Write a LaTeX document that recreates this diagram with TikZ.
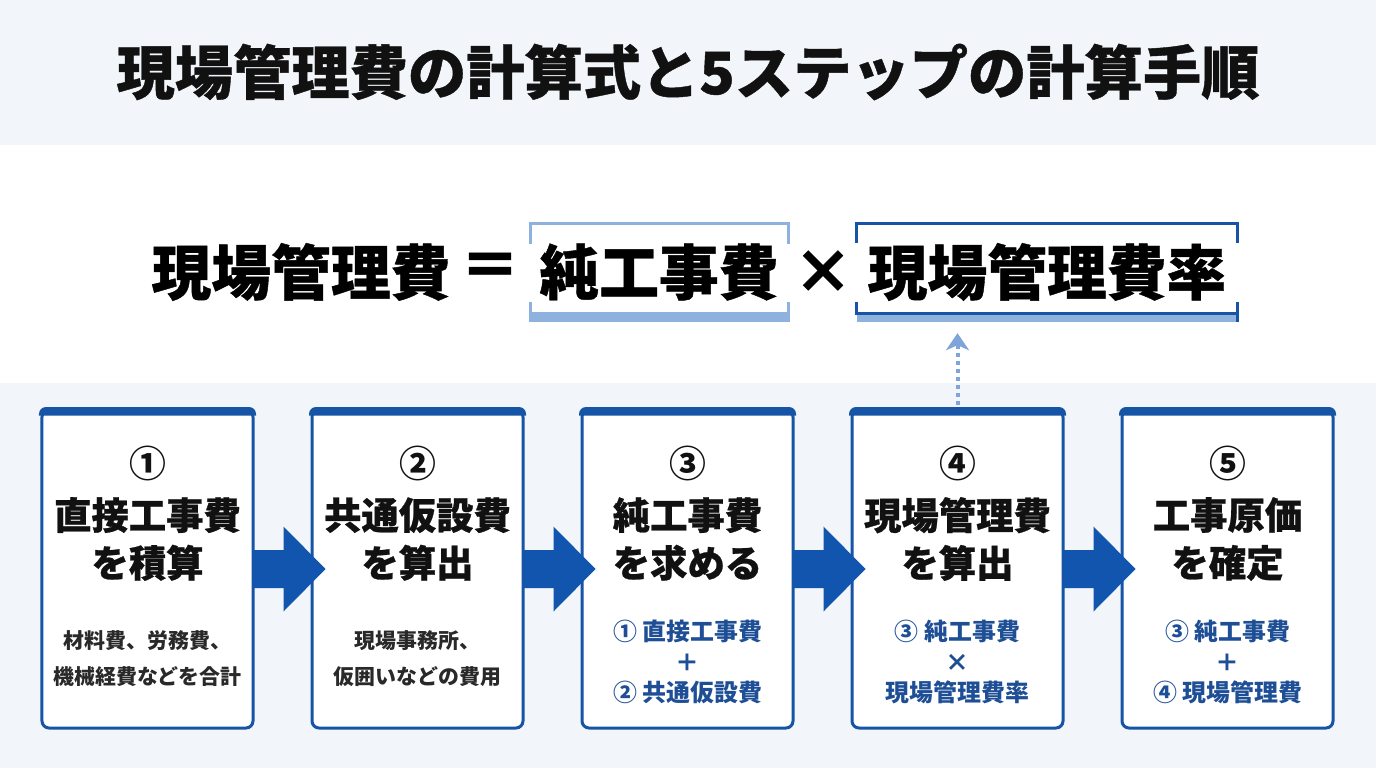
\documentclass[tikz,border=0pt]{standalone}
\usepackage{fontspec}
\setmainfont{Noto Sans CJK JP}
\newfontfamily\heavyjp{Noto Sans CJK JP}[BoldFeatures={FakeBold=0.7}]
\usetikzlibrary{calc,arrows.meta}
\definecolor{bggray}{HTML}{F2F5F9}
\definecolor{boxblue}{HTML}{1654A6}
\definecolor{arrblue}{HTML}{1155AE}
\definecolor{txtblue}{HTML}{1E4F96}
\definecolor{lightblue}{HTML}{8FB1DE}
\definecolor{dotblue}{HTML}{7FA4D9}
\definecolor{ink}{HTML}{111111}
\tikzset{
  stepbox/.style={draw=boxblue, line width=3bp, fill=white, rounded corners=7bp,
    minimum width=211bp, minimum height=318bp, inner sep=0pt},
  numtxt/.style={font=\fontsize{37}{40}\selectfont\bfseries, text=ink, inner sep=0pt},
  ttltxt/.style={font=\heavyjp\fontsize{37.5}{48}\selectfont\bfseries, text=ink, inner sep=0pt, align=center},
  subtxt/.style={font=\fontsize{21}{36}\selectfont\bfseries, text=ink!90, inner sep=0pt, align=center},
  bluetxt/.style={font=\fontsize{24}{30.5}\selectfont\bfseries, text=txtblue, inner sep=0pt, align=center},
  bigtxt/.style={font=\heavyjp\fontsize{60}{60}\selectfont\bfseries, text=black, inner sep=0pt},
  flowarrow/.style={fill=arrblue},
}
\begin{document}
\begin{tikzpicture}[x=1bp,y=-1bp]
\useasboundingbox (0,0) rectangle (1376,768);
\fill[bggray] (0,0) rectangle (1376,768);
\fill[white] (0,145) rectangle (1376,383);

% title
\node[font=\heavyjp\fontsize{58.5}{58}\selectfont\bfseries, text=ink, inner sep=0pt] (title) at (688,72) {現場管理費の計算式と5ステップの計算手順};

% formula
\node[bigtxt] (f1) at (301,272) {現場管理費};
\node[bigtxt] (feq) at (490,270) {＝};
\node[bigtxt] (f2) at (659,272) {純工事費};
\node[bigtxt] (fx) at (823,272) {×};
\node[bigtxt] (f3) at (1047,272) {現場管理費率};

% brackets (north = top edge, south = bottom edge)
\node[minimum width=257bp, minimum height=98bp, inner sep=0pt] (b1) at (659.5,273) {};
\node[minimum width=380bp, minimum height=98bp, inner sep=0pt] (b2) at (1047,273) {};
\draw[lightblue, line width=3bp] ($(b1.north west)+(0,20)$) -- (b1.north west) -- (b1.north east) -- ($(b1.north east)+(0,20)$);
\draw[lightblue, line width=3bp] ($(b1.south west)+(0,-20)$) -- ($(b1.south west)+(0,-6)$);
\draw[lightblue, line width=3bp] ($(b1.south east)+(0,-20)$) -- ($(b1.south east)+(0,-6)$);
\fill[lightblue] ($(b1.south west)+(-1.5,0)$) rectangle ($(b1.south east)+(1.5,-10)$);
\draw[boxblue, line width=3bp] ($(b2.north west)+(0,19)$) -- (b2.north west) -- (b2.north east) -- ($(b2.north east)+(0,19)$);
\fill[lightblue] ($(b2.south west)+(0,0)$) rectangle ($(b2.south east)+(0,-8)$);
\draw[boxblue, line width=3bp] ($(b2.south west)+(0,-20)$) -- ($(b2.south west)+(0,-9)$) -- ($(b2.south east)+(0,-9)$) -- ($(b2.south east)+(0,-20)$);
\draw[boxblue, line width=3bp] ($(b2.south east)+(0,-9)$) -- ($(b2.south east)+(0,0)$);

% step boxes
\foreach \i/\cx in {1/147.5,2/417.5,3/687.5,4/957.5,5/1227.5}{
  \node[stepbox] (s\i) at (\cx,569) {};
  \fill[boxblue] ($(s\i.north west)+(-1.5,7)$) [rounded corners=7bp] -- ($(s\i.north west)+(-1.5,-1.5)$) -- ($(s\i.north east)+(1.5,-1.5)$) [sharp corners] -- ($(s\i.north east)+(1.5,7)$) -- cycle;
}

% flow arrows
\foreach \a/\b in {1/2,2/3,3/4,4/5}{
  \fill[flowarrow] ($(s\a.east)+(-1,-19)$) -- ($(s\a.east)+(29,-19)$) -- ($(s\a.east)+(29,-42.5)$)
    -- ($(s\b.west)+(15,0)$) -- ($(s\a.east)+(29,42.5)$) -- ($(s\a.east)+(29,19)$) -- ($(s\a.east)+(-1,19)$) -- cycle;
}

% dotted arrow
\draw[dotblue, line width=4bp, dash pattern=on 4bp off 4bp, -{Stealth[length=17bp,width=23bp,inset=5bp]}]
  ($(s4.north)+(0,-4)$) -- ($(s4.north |- b2.south)+(0,11)$);

% texts in boxes
\node[numtxt] (n1) at (147.5,463) {①};
\node[numtxt] (n2) at (417.5,463) {②};
\node[numtxt] (n3) at (687.5,463) {③};
\node[numtxt] (n4) at (957.5,463) {④};
\node[numtxt] (n5) at (1227.5,463) {⑤};

\node[ttltxt] (t1) at (147.5,539) {直接工事費\\を積算};
\node[ttltxt] (t2) at (417.5,539) {共通仮設費\\を算出};
\node[ttltxt] (t3) at (687.5,539) {純工事費\\を求める};
\node[ttltxt] (t4) at (957.5,539) {現場管理費\\を算出};
\node[ttltxt] (t5) at (1227.5,539) {工事原価\\を確定};

\node[subtxt] (d1) at (147.5,659) {材料費、労務費、\\機械経費などを合計};
\node[subtxt] (d2) at (417.5,659) {現場事務所、\\仮囲いなどの費用};
\node[bluetxt] (d3) at (687.5,662) {① 直接工事費\\＋\\② 共通仮設費};
\node[bluetxt] (d4) at (957.5,662) {③ 純工事費\\×\\現場管理費率};
\node[bluetxt] (d5) at (1227.5,662) {③ 純工事費\\＋\\④ 現場管理費};
\end{tikzpicture}
\end{document}
